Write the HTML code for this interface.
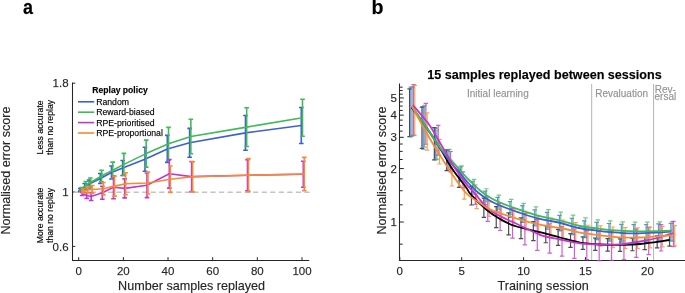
<!DOCTYPE html>
<html><head><meta charset="utf-8"><style>
html,body{margin:0;padding:0;background:#fff;}
body{width:685px;height:293px;overflow:hidden;}
svg{display:block;}
text{font-family:"Liberation Sans",sans-serif;}
.t{filter:grayscale(1);}
.t text{stroke-width:0.25px;stroke-opacity:0.6;}
</style></head><body>
<svg width="685" height="293" viewBox="0 0 685 293">
<rect width="685" height="293" fill="#fff"/>
<path d="M72.5,82.6 V260.5 H309.2" stroke="#262626" stroke-width="1.05" fill="none"/>
<line x1="72.5" y1="83.20" x2="75.3" y2="83.20" stroke="#262626" stroke-width="1"/>
<line x1="72.5" y1="192.00" x2="75.3" y2="192.00" stroke="#262626" stroke-width="1"/>
<line x1="72.5" y1="246.40" x2="75.3" y2="246.40" stroke="#262626" stroke-width="1"/>
<line x1="78.70" y1="260" x2="78.70" y2="257.2" stroke="#262626" stroke-width="1"/>
<line x1="123.36" y1="260" x2="123.36" y2="257.2" stroke="#262626" stroke-width="1"/>
<line x1="168.02" y1="260" x2="168.02" y2="257.2" stroke="#262626" stroke-width="1"/>
<line x1="212.68" y1="260" x2="212.68" y2="257.2" stroke="#262626" stroke-width="1"/>
<line x1="257.34" y1="260" x2="257.34" y2="257.2" stroke="#262626" stroke-width="1"/>
<line x1="302.00" y1="260" x2="302.00" y2="257.2" stroke="#262626" stroke-width="1"/>
<line x1="73.8" y1="192.2" x2="309.5" y2="192.2" stroke="#c4c4c4" stroke-width="1.4" stroke-dasharray="5.2,3.34"/>
<path d="M80.23,188.50 V191.50 M77.93,188.50 H82.53 M77.93,191.50 H82.53" stroke="#3d5fd6" stroke-width="1.6" fill="none"/>
<path d="M84.70,183.50 V189.50 M82.40,183.50 H87.00 M82.40,189.50 H87.00" stroke="#3d5fd6" stroke-width="1.6" fill="none"/>
<path d="M89.17,180.00 V188.00 M86.87,180.00 H91.47 M86.87,188.00 H91.47" stroke="#3d5fd6" stroke-width="1.6" fill="none"/>
<path d="M100.33,173.50 V183.50 M98.03,173.50 H102.63 M98.03,183.50 H102.63" stroke="#3d5fd6" stroke-width="1.6" fill="none"/>
<path d="M111.50,166.00 V179.00 M109.20,166.00 H113.80 M109.20,179.00 H113.80" stroke="#3d5fd6" stroke-width="1.6" fill="none"/>
<path d="M122.66,160.50 V175.50 M120.36,160.50 H124.96 M120.36,175.50 H124.96" stroke="#3d5fd6" stroke-width="1.6" fill="none"/>
<path d="M144.99,147.20 V171.20 M142.69,147.20 H147.29 M142.69,171.20 H147.29" stroke="#3d5fd6" stroke-width="1.6" fill="none"/>
<path d="M167.32,135.40 V162.40 M165.02,135.40 H169.62 M165.02,162.40 H169.62" stroke="#3d5fd6" stroke-width="1.6" fill="none"/>
<path d="M189.65,128.40 V157.20 M187.35,128.40 H191.95 M187.35,157.20 H191.95" stroke="#3d5fd6" stroke-width="1.6" fill="none"/>
<path d="M245.48,115.50 V150.30 M243.18,115.50 H247.78 M243.18,150.30 H247.78" stroke="#3d5fd6" stroke-width="1.6" fill="none"/>
<path d="M301.30,107.50 V143.50 M299.00,107.50 H303.60 M299.00,143.50 H303.60" stroke="#3d5fd6" stroke-width="1.6" fill="none"/>
<polyline points="78.00,191.60 80.23,190.00 84.70,186.50 89.17,184.00 100.33,178.50 111.50,172.50 122.66,168.00 144.99,159.20 167.32,148.90 189.65,142.80 245.48,132.90 301.30,125.50" stroke="#3d5fd6" stroke-width="1.6" fill="none" stroke-linejoin="round"/>
<path d="M81.43,187.50 V191.50 M79.13,187.50 H83.73 M79.13,191.50 H83.73" stroke="#3fba55" stroke-width="1.6" fill="none"/>
<path d="M85.90,181.50 V188.50 M83.60,181.50 H88.20 M83.60,188.50 H88.20" stroke="#3fba55" stroke-width="1.6" fill="none"/>
<path d="M90.37,178.00 V187.00 M88.07,178.00 H92.67 M88.07,187.00 H92.67" stroke="#3fba55" stroke-width="1.6" fill="none"/>
<path d="M101.53,170.30 V181.70 M99.23,170.30 H103.83 M99.23,181.70 H103.83" stroke="#3fba55" stroke-width="1.6" fill="none"/>
<path d="M112.70,162.10 V178.50 M110.40,162.10 H115.00 M110.40,178.50 H115.00" stroke="#3fba55" stroke-width="1.6" fill="none"/>
<path d="M123.86,153.40 V175.40 M121.56,153.40 H126.16 M121.56,175.40 H126.16" stroke="#3fba55" stroke-width="1.6" fill="none"/>
<path d="M146.19,140.10 V167.10 M143.89,140.10 H148.49 M143.89,167.10 H148.49" stroke="#3fba55" stroke-width="1.6" fill="none"/>
<path d="M168.52,127.40 V160.20 M166.22,127.40 H170.82 M166.22,160.20 H170.82" stroke="#3fba55" stroke-width="1.6" fill="none"/>
<path d="M190.85,119.30 V153.70 M188.55,119.30 H193.15 M188.55,153.70 H193.15" stroke="#3fba55" stroke-width="1.6" fill="none"/>
<path d="M246.68,107.70 V146.50 M244.38,107.70 H248.98 M244.38,146.50 H248.98" stroke="#3fba55" stroke-width="1.6" fill="none"/>
<path d="M302.50,99.20 V136.20 M300.20,99.20 H304.80 M300.20,136.20 H304.80" stroke="#3fba55" stroke-width="1.6" fill="none"/>
<polyline points="79.20,191.60 81.43,189.50 85.90,185.00 90.37,182.50 101.53,176.00 112.70,170.30 123.86,164.40 146.19,153.60 168.52,143.80 190.85,136.50 246.68,127.10 302.50,117.70" stroke="#3fba55" stroke-width="1.6" fill="none" stroke-linejoin="round"/>
<path d="M82.23,191.50 V195.50 M79.93,191.50 H84.53 M79.93,195.50 H84.53" stroke="#c436d0" stroke-width="1.6" fill="none"/>
<path d="M86.70,192.50 V198.50 M84.40,192.50 H89.00 M84.40,198.50 H89.00" stroke="#c436d0" stroke-width="1.6" fill="none"/>
<path d="M91.17,192.50 V200.50 M88.87,192.50 H93.47 M88.87,200.50 H93.47" stroke="#c436d0" stroke-width="1.6" fill="none"/>
<path d="M102.33,186.30 V199.30 M100.03,186.30 H104.63 M100.03,199.30 H104.63" stroke="#c436d0" stroke-width="1.6" fill="none"/>
<path d="M113.50,175.70 V198.70 M111.20,175.70 H115.80 M111.20,198.70 H115.80" stroke="#c436d0" stroke-width="1.6" fill="none"/>
<path d="M124.66,178.90 V197.90 M122.36,178.90 H126.96 M122.36,197.90 H126.96" stroke="#c436d0" stroke-width="1.6" fill="none"/>
<path d="M146.99,173.00 V197.60 M144.69,173.00 H149.29 M144.69,197.60 H149.29" stroke="#c436d0" stroke-width="1.6" fill="none"/>
<path d="M169.32,159.50 V188.10 M167.02,159.50 H171.62 M167.02,188.10 H171.62" stroke="#c436d0" stroke-width="1.6" fill="none"/>
<path d="M191.65,161.60 V191.60 M189.35,161.60 H193.95 M189.35,191.60 H193.95" stroke="#c436d0" stroke-width="1.6" fill="none"/>
<path d="M247.48,159.70 V190.70 M245.18,159.70 H249.78 M245.18,190.70 H249.78" stroke="#c436d0" stroke-width="1.6" fill="none"/>
<path d="M303.30,161.20 V187.20 M301.00,161.20 H305.60 M301.00,187.20 H305.60" stroke="#c436d0" stroke-width="1.6" fill="none"/>
<polyline points="80.00,191.60 82.23,193.50 86.70,195.50 91.17,196.50 102.33,192.80 113.50,187.20 124.66,188.40 146.99,185.30 169.32,173.80 191.65,176.60 247.48,175.20 303.30,174.20" stroke="#c436d0" stroke-width="1.6" fill="none" stroke-linejoin="round"/>
<path d="M83.23,189.00 V193.00 M80.93,189.00 H85.53 M80.93,193.00 H85.53" stroke="#f68b34" stroke-width="1.6" fill="none"/>
<path d="M87.70,187.00 V193.00 M85.40,187.00 H90.00 M85.40,193.00 H90.00" stroke="#f68b34" stroke-width="1.6" fill="none"/>
<path d="M92.17,185.50 V193.50 M89.87,185.50 H94.47 M89.87,193.50 H94.47" stroke="#f68b34" stroke-width="1.6" fill="none"/>
<path d="M103.33,182.50 V194.90 M101.03,182.50 H105.63 M101.03,194.90 H105.63" stroke="#f68b34" stroke-width="1.6" fill="none"/>
<path d="M114.50,176.10 V196.10 M112.20,176.10 H116.80 M112.20,196.10 H116.80" stroke="#f68b34" stroke-width="1.6" fill="none"/>
<path d="M125.66,172.70 V194.70 M123.36,172.70 H127.96 M123.36,194.70 H127.96" stroke="#f68b34" stroke-width="1.6" fill="none"/>
<path d="M147.99,172.00 V194.00 M145.69,172.00 H150.29 M145.69,194.00 H150.29" stroke="#f68b34" stroke-width="1.6" fill="none"/>
<path d="M170.32,166.00 V192.40 M168.02,166.00 H172.62 M168.02,192.40 H172.62" stroke="#f68b34" stroke-width="1.6" fill="none"/>
<path d="M192.65,161.80 V191.80 M190.35,161.80 H194.95 M190.35,191.80 H194.95" stroke="#f68b34" stroke-width="1.6" fill="none"/>
<path d="M248.48,158.60 V191.80 M246.18,158.60 H250.78 M246.18,191.80 H250.78" stroke="#f68b34" stroke-width="1.6" fill="none"/>
<path d="M304.30,157.40 V190.60 M302.00,157.40 H306.60 M302.00,190.60 H306.60" stroke="#f68b34" stroke-width="1.6" fill="none"/>
<polyline points="81.00,191.60 83.23,191.00 87.70,190.00 92.17,189.50 103.33,188.70 114.50,186.10 125.66,183.70 147.99,183.00 170.32,179.20 192.65,176.80 248.48,175.20 304.30,174.00" stroke="#f68b34" stroke-width="1.6" fill="none" stroke-linejoin="round"/>
<line x1="78" y1="101.80" x2="94.2" y2="101.80" stroke="#3d5fd6" stroke-width="1.6"/>
<line x1="78" y1="112.20" x2="94.2" y2="112.20" stroke="#3fba55" stroke-width="1.6"/>
<line x1="78" y1="122.60" x2="94.2" y2="122.60" stroke="#c436d0" stroke-width="1.6"/>
<line x1="78" y1="133.00" x2="94.2" y2="133.00" stroke="#f68b34" stroke-width="1.6"/>
<path d="M399.5,83.4 V260.5 H685" stroke="#262626" stroke-width="1.05" fill="none"/>
<line x1="399.6" y1="222.00" x2="403.8" y2="222.00" stroke="#262626" stroke-width="1"/>
<line x1="399.6" y1="168.57" x2="403.8" y2="168.57" stroke="#262626" stroke-width="1"/>
<line x1="399.6" y1="137.31" x2="403.8" y2="137.31" stroke="#262626" stroke-width="1"/>
<line x1="399.6" y1="115.13" x2="403.8" y2="115.13" stroke="#262626" stroke-width="1"/>
<line x1="399.6" y1="97.93" x2="403.8" y2="97.93" stroke="#262626" stroke-width="1"/>
<line x1="399.6" y1="244.18" x2="402.7" y2="244.18" stroke="#262626" stroke-width="1"/>
<line x1="399.6" y1="204.80" x2="402.7" y2="204.80" stroke="#262626" stroke-width="1"/>
<line x1="399.6" y1="190.74" x2="402.7" y2="190.74" stroke="#262626" stroke-width="1"/>
<line x1="399.6" y1="178.86" x2="402.7" y2="178.86" stroke="#262626" stroke-width="1"/>
<line x1="399.6" y1="159.49" x2="402.7" y2="159.49" stroke="#262626" stroke-width="1"/>
<line x1="399.6" y1="151.37" x2="402.7" y2="151.37" stroke="#262626" stroke-width="1"/>
<line x1="399.6" y1="144.02" x2="402.7" y2="144.02" stroke="#262626" stroke-width="1"/>
<line x1="399.6" y1="131.14" x2="402.7" y2="131.14" stroke="#262626" stroke-width="1"/>
<line x1="399.6" y1="125.43" x2="402.7" y2="125.43" stroke="#262626" stroke-width="1"/>
<line x1="399.6" y1="120.11" x2="402.7" y2="120.11" stroke="#262626" stroke-width="1"/>
<line x1="399.6" y1="110.46" x2="402.7" y2="110.46" stroke="#262626" stroke-width="1"/>
<line x1="399.6" y1="106.05" x2="402.7" y2="106.05" stroke="#262626" stroke-width="1"/>
<line x1="399.6" y1="101.89" x2="402.7" y2="101.89" stroke="#262626" stroke-width="1"/>
<line x1="399.6" y1="94.17" x2="402.7" y2="94.17" stroke="#262626" stroke-width="1"/>
<line x1="399.6" y1="90.59" x2="402.7" y2="90.59" stroke="#262626" stroke-width="1"/>
<line x1="399.6" y1="87.16" x2="402.7" y2="87.16" stroke="#262626" stroke-width="1"/>
<line x1="399.80" y1="260" x2="399.80" y2="257.2" stroke="#262626" stroke-width="1"/>
<line x1="461.70" y1="260" x2="461.70" y2="257.2" stroke="#262626" stroke-width="1"/>
<line x1="523.60" y1="260" x2="523.60" y2="257.2" stroke="#262626" stroke-width="1"/>
<line x1="585.50" y1="260" x2="585.50" y2="257.2" stroke="#262626" stroke-width="1"/>
<line x1="647.40" y1="260" x2="647.40" y2="257.2" stroke="#262626" stroke-width="1"/>
<line x1="591.69" y1="84" x2="591.69" y2="260" stroke="#b4b4b4" stroke-width="1"/>
<line x1="653.59" y1="84" x2="653.59" y2="260" stroke="#b4b4b4" stroke-width="1"/>
<path d="M409.58,88.84 V136.65 M407.38,88.84 H411.78 M407.38,136.65 H411.78" stroke="#000000" stroke-opacity="0.7" stroke-width="1.2" fill="none"/>
<path d="M421.96,107.10 V148.36 M419.76,107.10 H424.16 M419.76,148.36 H424.16" stroke="#000000" stroke-opacity="0.7" stroke-width="1.2" fill="none"/>
<path d="M434.34,127.68 V159.86 M432.14,127.68 H436.54 M432.14,159.86 H436.54" stroke="#000000" stroke-opacity="0.7" stroke-width="1.2" fill="none"/>
<path d="M446.72,149.88 V170.57 M444.52,149.88 H448.92 M444.52,170.57 H448.92" stroke="#000000" stroke-opacity="0.7" stroke-width="1.2" fill="none"/>
<path d="M459.10,169.78 V187.28 M456.90,169.78 H461.30 M456.90,187.28 H461.30" stroke="#000000" stroke-opacity="0.7" stroke-width="1.2" fill="none"/>
<path d="M471.48,186.43 V205.02 M469.28,186.43 H473.68 M469.28,205.02 H473.68" stroke="#000000" stroke-opacity="0.7" stroke-width="1.2" fill="none"/>
<path d="M483.86,198.15 V217.33 M481.66,198.15 H486.06 M481.66,217.33 H486.06" stroke="#000000" stroke-opacity="0.7" stroke-width="1.2" fill="none"/>
<path d="M496.24,206.66 V227.58 M494.04,206.66 H498.44 M494.04,227.58 H498.44" stroke="#000000" stroke-opacity="0.7" stroke-width="1.2" fill="none"/>
<path d="M508.62,212.80 V234.82 M506.42,212.80 H510.82 M506.42,234.82 H510.82" stroke="#000000" stroke-opacity="0.7" stroke-width="1.2" fill="none"/>
<path d="M521.00,217.78 V238.60 M518.80,217.78 H523.20 M518.80,238.60 H523.20" stroke="#000000" stroke-opacity="0.7" stroke-width="1.2" fill="none"/>
<path d="M533.38,221.62 V240.67 M531.18,221.62 H535.58 M531.18,240.67 H535.58" stroke="#000000" stroke-opacity="0.7" stroke-width="1.2" fill="none"/>
<path d="M545.76,225.64 V242.76 M543.56,225.64 H547.96 M543.56,242.76 H547.96" stroke="#000000" stroke-opacity="0.7" stroke-width="1.2" fill="none"/>
<path d="M558.14,229.43 V245.41 M555.94,229.43 H560.34 M555.94,245.41 H560.34" stroke="#000000" stroke-opacity="0.7" stroke-width="1.2" fill="none"/>
<path d="M570.52,233.64 V247.34 M568.32,233.64 H572.72 M568.32,247.34 H572.72" stroke="#000000" stroke-opacity="0.7" stroke-width="1.2" fill="none"/>
<path d="M582.90,236.85 V249.41 M580.70,236.85 H585.10 M580.70,249.41 H585.10" stroke="#000000" stroke-opacity="0.7" stroke-width="1.2" fill="none"/>
<path d="M595.28,238.13 V250.47 M593.08,238.13 H597.48 M593.08,250.47 H597.48" stroke="#000000" stroke-opacity="0.7" stroke-width="1.2" fill="none"/>
<path d="M607.66,238.65 V251.08 M605.46,238.65 H609.86 M605.46,251.08 H609.86" stroke="#000000" stroke-opacity="0.7" stroke-width="1.2" fill="none"/>
<path d="M620.04,238.82 V251.28 M617.84,238.82 H622.24 M617.84,251.28 H622.24" stroke="#000000" stroke-opacity="0.7" stroke-width="1.2" fill="none"/>
<path d="M632.42,238.36 V250.74 M630.22,238.36 H634.62 M630.22,250.74 H634.62" stroke="#000000" stroke-opacity="0.7" stroke-width="1.2" fill="none"/>
<path d="M644.80,237.48 V249.71 M642.60,237.48 H647.00 M642.60,249.71 H647.00" stroke="#000000" stroke-opacity="0.7" stroke-width="1.2" fill="none"/>
<path d="M657.18,235.93 V247.89 M654.98,235.93 H659.38 M654.98,247.89 H659.38" stroke="#000000" stroke-opacity="0.7" stroke-width="1.2" fill="none"/>
<path d="M669.56,234.37 V246.08 M667.36,234.37 H671.76 M667.36,246.08 H671.76" stroke="#000000" stroke-opacity="0.7" stroke-width="1.2" fill="none"/>
<path d="M410.88,87.19 V136.60 M408.68,87.19 H413.08 M408.68,136.60 H413.08" stroke="#3d5fd6" stroke-opacity="0.75" stroke-width="1.2" fill="none"/>
<path d="M423.26,106.58 V149.25 M421.06,106.58 H425.46 M421.06,149.25 H425.46" stroke="#3d5fd6" stroke-opacity="0.75" stroke-width="1.2" fill="none"/>
<path d="M435.64,128.07 V159.76 M433.44,128.07 H437.84 M433.44,159.76 H437.84" stroke="#3d5fd6" stroke-opacity="0.75" stroke-width="1.2" fill="none"/>
<path d="M448.02,149.90 V169.03 M445.82,149.90 H450.22 M445.82,169.03 H450.22" stroke="#3d5fd6" stroke-opacity="0.75" stroke-width="1.2" fill="none"/>
<path d="M460.40,166.96 V180.99 M458.20,166.96 H462.60 M458.20,180.99 H462.60" stroke="#3d5fd6" stroke-opacity="0.75" stroke-width="1.2" fill="none"/>
<path d="M472.78,181.23 V194.05 M470.58,181.23 H474.98 M470.58,194.05 H474.98" stroke="#3d5fd6" stroke-opacity="0.75" stroke-width="1.2" fill="none"/>
<path d="M485.16,191.07 V204.57 M482.96,191.07 H487.36 M482.96,204.57 H487.36" stroke="#3d5fd6" stroke-opacity="0.75" stroke-width="1.2" fill="none"/>
<path d="M497.54,197.39 V212.16 M495.34,197.39 H499.74 M495.34,212.16 H499.74" stroke="#3d5fd6" stroke-opacity="0.75" stroke-width="1.2" fill="none"/>
<path d="M509.92,201.69 V217.41 M507.72,201.69 H512.12 M507.72,217.41 H512.12" stroke="#3d5fd6" stroke-opacity="0.75" stroke-width="1.2" fill="none"/>
<path d="M522.30,205.66 V222.30 M520.10,205.66 H524.50 M520.10,222.30 H524.50" stroke="#3d5fd6" stroke-opacity="0.75" stroke-width="1.2" fill="none"/>
<path d="M534.68,209.83 V225.87 M532.48,209.83 H536.88 M532.48,225.87 H536.88" stroke="#3d5fd6" stroke-opacity="0.75" stroke-width="1.2" fill="none"/>
<path d="M547.06,212.41 V229.06 M544.86,212.41 H549.26 M544.86,229.06 H549.26" stroke="#3d5fd6" stroke-opacity="0.75" stroke-width="1.2" fill="none"/>
<path d="M559.44,215.29 V230.90 M557.24,215.29 H561.64 M557.24,230.90 H561.64" stroke="#3d5fd6" stroke-opacity="0.75" stroke-width="1.2" fill="none"/>
<path d="M571.82,218.38 V234.70 M569.62,218.38 H574.02 M569.62,234.70 H574.02" stroke="#3d5fd6" stroke-opacity="0.75" stroke-width="1.2" fill="none"/>
<path d="M584.20,220.78 V237.68 M582.00,220.78 H586.40 M582.00,237.68 H586.40" stroke="#3d5fd6" stroke-opacity="0.75" stroke-width="1.2" fill="none"/>
<path d="M596.58,222.34 V239.63 M594.38,222.34 H598.78 M594.38,239.63 H598.78" stroke="#3d5fd6" stroke-opacity="0.75" stroke-width="1.2" fill="none"/>
<path d="M608.96,223.49 V241.06 M606.76,223.49 H611.16 M606.76,241.06 H611.16" stroke="#3d5fd6" stroke-opacity="0.75" stroke-width="1.2" fill="none"/>
<path d="M621.34,224.39 V242.20 M619.14,224.39 H623.54 M619.14,242.20 H623.54" stroke="#3d5fd6" stroke-opacity="0.75" stroke-width="1.2" fill="none"/>
<path d="M633.72,224.72 V242.62 M631.52,224.72 H635.92 M631.52,242.62 H635.92" stroke="#3d5fd6" stroke-opacity="0.75" stroke-width="1.2" fill="none"/>
<path d="M646.10,224.52 V242.37 M643.90,224.52 H648.30 M643.90,242.37 H648.30" stroke="#3d5fd6" stroke-opacity="0.75" stroke-width="1.2" fill="none"/>
<path d="M658.48,223.97 V241.68 M656.28,223.97 H660.68 M656.28,241.68 H660.68" stroke="#3d5fd6" stroke-opacity="0.75" stroke-width="1.2" fill="none"/>
<path d="M670.86,223.42 V240.98 M668.66,223.42 H673.06 M668.66,240.98 H673.06" stroke="#3d5fd6" stroke-opacity="0.75" stroke-width="1.2" fill="none"/>
<path d="M412.18,86.96 V136.16 M409.98,86.96 H414.38 M409.98,136.16 H414.38" stroke="#3fba55" stroke-opacity="0.75" stroke-width="1.2" fill="none"/>
<path d="M424.56,105.40 V147.21 M422.36,105.40 H426.76 M422.36,147.21 H426.76" stroke="#3fba55" stroke-opacity="0.75" stroke-width="1.2" fill="none"/>
<path d="M436.94,129.98 V159.17 M434.74,129.98 H439.14 M434.74,159.17 H439.14" stroke="#3fba55" stroke-opacity="0.75" stroke-width="1.2" fill="none"/>
<path d="M449.32,149.37 V167.59 M447.12,149.37 H451.52 M447.12,167.59 H451.52" stroke="#3fba55" stroke-opacity="0.75" stroke-width="1.2" fill="none"/>
<path d="M461.70,165.95 V178.90 M459.50,165.95 H463.90 M459.50,178.90 H463.90" stroke="#3fba55" stroke-opacity="0.75" stroke-width="1.2" fill="none"/>
<path d="M474.08,179.36 V190.81 M471.88,179.36 H476.28 M471.88,190.81 H476.28" stroke="#3fba55" stroke-opacity="0.75" stroke-width="1.2" fill="none"/>
<path d="M486.46,188.76 V201.83 M484.26,188.76 H488.66 M484.26,201.83 H488.66" stroke="#3fba55" stroke-opacity="0.75" stroke-width="1.2" fill="none"/>
<path d="M498.84,195.10 V209.40 M496.64,195.10 H501.04 M496.64,209.40 H501.04" stroke="#3fba55" stroke-opacity="0.75" stroke-width="1.2" fill="none"/>
<path d="M511.22,199.42 V214.63 M509.02,199.42 H513.42 M509.02,214.63 H513.42" stroke="#3fba55" stroke-opacity="0.75" stroke-width="1.2" fill="none"/>
<path d="M523.60,203.40 V219.51 M521.40,203.40 H525.80 M521.40,219.51 H525.80" stroke="#3fba55" stroke-opacity="0.75" stroke-width="1.2" fill="none"/>
<path d="M535.98,206.92 V223.87 M533.78,206.92 H538.18 M533.78,223.87 H538.18" stroke="#3fba55" stroke-opacity="0.75" stroke-width="1.2" fill="none"/>
<path d="M548.36,209.68 V227.32 M546.16,209.68 H550.56 M546.16,227.32 H550.56" stroke="#3fba55" stroke-opacity="0.75" stroke-width="1.2" fill="none"/>
<path d="M560.74,212.11 V230.38 M558.54,212.11 H562.94 M558.54,230.38 H562.94" stroke="#3fba55" stroke-opacity="0.75" stroke-width="1.2" fill="none"/>
<path d="M573.12,215.14 V234.25 M570.92,215.14 H575.32 M570.92,234.25 H575.32" stroke="#3fba55" stroke-opacity="0.75" stroke-width="1.2" fill="none"/>
<path d="M585.50,217.87 V236.83 M583.30,217.87 H587.70 M583.30,236.83 H587.70" stroke="#3fba55" stroke-opacity="0.75" stroke-width="1.2" fill="none"/>
<path d="M597.88,219.79 V238.33 M595.68,219.79 H600.08 M595.68,238.33 H600.08" stroke="#3fba55" stroke-opacity="0.75" stroke-width="1.2" fill="none"/>
<path d="M610.26,220.92 V239.78 M608.06,220.92 H612.46 M608.06,239.78 H612.46" stroke="#3fba55" stroke-opacity="0.75" stroke-width="1.2" fill="none"/>
<path d="M622.64,221.82 V240.92 M620.44,221.82 H624.84 M620.44,240.92 H624.84" stroke="#3fba55" stroke-opacity="0.75" stroke-width="1.2" fill="none"/>
<path d="M635.02,222.15 V241.34 M632.82,222.15 H637.22 M632.82,241.34 H637.22" stroke="#3fba55" stroke-opacity="0.75" stroke-width="1.2" fill="none"/>
<path d="M647.40,222.16 V241.36 M645.20,222.16 H649.60 M645.20,241.36 H649.60" stroke="#3fba55" stroke-opacity="0.75" stroke-width="1.2" fill="none"/>
<path d="M659.78,221.95 V241.09 M657.58,221.95 H661.98 M657.58,241.09 H661.98" stroke="#3fba55" stroke-opacity="0.75" stroke-width="1.2" fill="none"/>
<path d="M672.16,221.75 V240.83 M669.96,221.75 H674.36 M669.96,240.83 H674.36" stroke="#3fba55" stroke-opacity="0.75" stroke-width="1.2" fill="none"/>
<path d="M413.48,84.67 V135.31 M411.28,84.67 H415.68 M411.28,135.31 H415.68" stroke="#c436d0" stroke-opacity="0.8" stroke-width="1.2" fill="none"/>
<path d="M425.86,103.33 V144.24 M423.66,103.33 H428.06 M423.66,144.24 H428.06" stroke="#c436d0" stroke-opacity="0.8" stroke-width="1.2" fill="none"/>
<path d="M438.24,125.37 V155.07 M436.04,125.37 H440.44 M436.04,155.07 H440.44" stroke="#c436d0" stroke-opacity="0.8" stroke-width="1.2" fill="none"/>
<path d="M450.62,151.50 V171.90 M448.42,151.50 H452.82 M448.42,171.90 H452.82" stroke="#c436d0" stroke-opacity="0.8" stroke-width="1.2" fill="none"/>
<path d="M463.00,171.78 V187.80 M460.80,171.78 H465.20 M460.80,187.80 H465.20" stroke="#c436d0" stroke-opacity="0.8" stroke-width="1.2" fill="none"/>
<path d="M475.38,185.02 V204.46 M473.18,185.02 H477.58 M473.18,204.46 H477.58" stroke="#c436d0" stroke-opacity="0.8" stroke-width="1.2" fill="none"/>
<path d="M487.76,196.75 V221.42 M485.56,196.75 H489.96 M485.56,221.42 H489.96" stroke="#c436d0" stroke-opacity="0.8" stroke-width="1.2" fill="none"/>
<path d="M500.14,203.23 V230.48 M497.94,203.23 H502.34 M497.94,230.48 H502.34" stroke="#c436d0" stroke-opacity="0.8" stroke-width="1.2" fill="none"/>
<path d="M512.52,208.54 V238.17 M510.32,208.54 H514.72 M510.32,238.17 H514.72" stroke="#c436d0" stroke-opacity="0.8" stroke-width="1.2" fill="none"/>
<path d="M524.90,213.67 V244.79 M522.70,213.67 H527.10 M522.70,244.79 H527.10" stroke="#c436d0" stroke-opacity="0.8" stroke-width="1.2" fill="none"/>
<path d="M537.28,219.63 V250.47 M535.08,219.63 H539.48 M535.08,250.47 H539.48" stroke="#c436d0" stroke-opacity="0.8" stroke-width="1.2" fill="none"/>
<path d="M549.66,223.76 V253.17 M547.46,223.76 H551.86 M547.46,253.17 H551.86" stroke="#c436d0" stroke-opacity="0.8" stroke-width="1.2" fill="none"/>
<path d="M562.04,226.54 V256.07 M559.84,226.54 H564.24 M559.84,256.07 H564.24" stroke="#c436d0" stroke-opacity="0.8" stroke-width="1.2" fill="none"/>
<path d="M574.42,228.99 V258.43 M572.22,228.99 H576.62 M572.22,258.43 H576.62" stroke="#c436d0" stroke-opacity="0.8" stroke-width="1.2" fill="none"/>
<path d="M586.80,230.67 V259.65 M584.60,230.67 H589.00 M584.60,259.65 H589.00" stroke="#c436d0" stroke-opacity="0.8" stroke-width="1.2" fill="none"/>
<path d="M599.18,231.30 V260.56 M596.98,231.30 H601.38 M596.98,260.56 H601.38" stroke="#c436d0" stroke-opacity="0.8" stroke-width="1.2" fill="none"/>
<path d="M611.56,231.19 V260.41 M609.36,231.19 H613.76 M609.36,260.41 H613.76" stroke="#c436d0" stroke-opacity="0.8" stroke-width="1.2" fill="none"/>
<path d="M623.94,230.62 V259.58 M621.74,230.62 H626.14 M621.74,259.58 H626.14" stroke="#c436d0" stroke-opacity="0.8" stroke-width="1.2" fill="none"/>
<path d="M636.32,229.16 V257.45 M634.12,229.16 H638.52 M634.12,257.45 H638.52" stroke="#c436d0" stroke-opacity="0.8" stroke-width="1.2" fill="none"/>
<path d="M648.70,227.24 V254.71 M646.50,227.24 H650.90 M646.50,254.71 H650.90" stroke="#c436d0" stroke-opacity="0.8" stroke-width="1.2" fill="none"/>
<path d="M661.08,224.63 V251.00 M658.88,224.63 H663.28 M658.88,251.00 H663.28" stroke="#c436d0" stroke-opacity="0.8" stroke-width="1.2" fill="none"/>
<path d="M673.46,221.47 V246.59 M671.26,221.47 H675.66 M671.26,246.59 H675.66" stroke="#c436d0" stroke-opacity="0.8" stroke-width="1.2" fill="none"/>
<path d="M414.78,85.28 V134.99 M412.58,85.28 H416.98 M412.58,134.99 H416.98" stroke="#f68b34" stroke-opacity="0.8" stroke-width="1.2" fill="none"/>
<path d="M427.16,112.80 V150.06 M424.96,112.80 H429.36 M424.96,150.06 H429.36" stroke="#f68b34" stroke-opacity="0.8" stroke-width="1.2" fill="none"/>
<path d="M439.54,139.35 V164.01 M437.34,139.35 H441.74 M437.34,164.01 H441.74" stroke="#f68b34" stroke-opacity="0.8" stroke-width="1.2" fill="none"/>
<path d="M451.92,163.54 V186.02 M449.72,163.54 H454.12 M449.72,186.02 H454.12" stroke="#f68b34" stroke-opacity="0.8" stroke-width="1.2" fill="none"/>
<path d="M464.30,182.64 V199.08 M462.10,182.64 H466.50 M462.10,199.08 H466.50" stroke="#f68b34" stroke-opacity="0.8" stroke-width="1.2" fill="none"/>
<path d="M476.68,193.36 V208.59 M474.48,193.36 H478.88 M474.48,208.59 H478.88" stroke="#f68b34" stroke-opacity="0.8" stroke-width="1.2" fill="none"/>
<path d="M489.06,201.95 V216.28 M486.86,201.95 H491.26 M486.86,216.28 H491.26" stroke="#f68b34" stroke-opacity="0.8" stroke-width="1.2" fill="none"/>
<path d="M501.44,206.07 V221.26 M499.24,206.07 H503.64 M499.24,221.26 H503.64" stroke="#f68b34" stroke-opacity="0.8" stroke-width="1.2" fill="none"/>
<path d="M513.82,209.89 V225.94 M511.62,209.89 H516.02 M511.62,225.94 H516.02" stroke="#f68b34" stroke-opacity="0.8" stroke-width="1.2" fill="none"/>
<path d="M526.20,213.22 V230.06 M524.00,213.22 H528.40 M524.00,230.06 H528.40" stroke="#f68b34" stroke-opacity="0.8" stroke-width="1.2" fill="none"/>
<path d="M538.58,216.06 V233.62 M536.38,216.06 H540.78 M536.38,233.62 H540.78" stroke="#f68b34" stroke-opacity="0.8" stroke-width="1.2" fill="none"/>
<path d="M550.96,218.07 V236.15 M548.76,218.07 H553.16 M548.76,236.15 H553.16" stroke="#f68b34" stroke-opacity="0.8" stroke-width="1.2" fill="none"/>
<path d="M563.34,219.98 V238.57 M561.14,219.98 H565.54 M561.14,238.57 H565.54" stroke="#f68b34" stroke-opacity="0.8" stroke-width="1.2" fill="none"/>
<path d="M575.72,222.59 V241.91 M573.52,222.59 H577.92 M573.52,241.91 H577.92" stroke="#f68b34" stroke-opacity="0.8" stroke-width="1.2" fill="none"/>
<path d="M588.10,225.26 V243.30 M585.90,225.26 H590.30 M585.90,243.30 H590.30" stroke="#f68b34" stroke-opacity="0.8" stroke-width="1.2" fill="none"/>
<path d="M600.48,225.87 V246.16 M598.28,225.87 H602.68 M598.28,246.16 H602.68" stroke="#f68b34" stroke-opacity="0.8" stroke-width="1.2" fill="none"/>
<path d="M612.86,227.02 V247.65 M610.66,227.02 H615.06 M610.66,247.65 H615.06" stroke="#f68b34" stroke-opacity="0.8" stroke-width="1.2" fill="none"/>
<path d="M625.24,227.71 V248.55 M623.04,227.71 H627.44 M623.04,248.55 H627.44" stroke="#f68b34" stroke-opacity="0.8" stroke-width="1.2" fill="none"/>
<path d="M637.62,227.76 V248.62 M635.42,227.76 H639.82 M635.42,248.62 H639.82" stroke="#f68b34" stroke-opacity="0.8" stroke-width="1.2" fill="none"/>
<path d="M650.00,227.14 V247.81 M647.80,227.14 H652.20 M647.80,247.81 H652.20" stroke="#f68b34" stroke-opacity="0.8" stroke-width="1.2" fill="none"/>
<path d="M662.38,226.35 V246.78 M660.18,226.35 H664.58 M660.18,246.78 H664.58" stroke="#f68b34" stroke-opacity="0.8" stroke-width="1.2" fill="none"/>
<path d="M674.76,225.57 V245.76 M672.56,225.57 H676.96 M672.56,245.76 H676.96" stroke="#f68b34" stroke-opacity="0.8" stroke-width="1.2" fill="none"/>
<path d="M411.60,107.40 C414.20,110.93 422.47,121.83 427.20,128.60 C431.93,135.37 435.87,141.33 440.00,148.00 C444.13,154.67 447.67,162.07 452.00,168.60 C456.33,175.13 462.83,182.85 466.00,187.20 C469.17,191.55 467.58,190.95 471.00,194.70 C474.42,198.45 481.67,205.65 486.50,209.70 C491.33,213.75 495.25,216.28 500.00,219.00 C504.75,221.72 508.33,223.80 515.00,226.00 C521.67,228.20 532.50,230.28 540.00,232.20 C547.50,234.12 553.33,235.77 560.00,237.50 C566.67,239.23 573.33,241.43 580.00,242.60 C586.67,243.77 593.33,244.13 600.00,244.50 C606.67,244.87 613.33,244.88 620.00,244.80 C626.67,244.72 631.73,244.80 640.00,244.00 C648.27,243.20 664.67,240.67 669.60,240.00" stroke="#000000" stroke-width="1.8" fill="none" stroke-linejoin="round"/>
<path d="M411.90,107.00 C414.45,110.67 422.57,122.23 427.20,129.00 C431.83,135.77 435.78,142.02 439.70,147.60 C443.62,153.18 447.20,158.10 450.70,162.50 C454.20,166.90 457.70,170.50 460.70,174.00 C463.70,177.50 465.70,180.33 468.70,183.50 C471.70,186.67 475.37,190.25 478.70,193.00 C482.03,195.75 485.37,198.00 488.70,200.00 C492.03,202.00 493.70,202.93 498.70,205.00 C503.70,207.07 512.03,210.12 518.70,212.40 C525.37,214.68 532.03,217.02 538.70,218.70 C545.37,220.38 552.03,220.95 558.70,222.50 C565.37,224.05 572.03,226.62 578.70,228.00 C585.37,229.38 592.03,230.02 598.70,230.80 C605.37,231.58 612.03,232.28 618.70,232.70 C625.37,233.12 630.00,233.47 638.70,233.30 C647.40,233.13 665.53,231.97 670.90,231.70" stroke="#3d5fd6" stroke-width="1.8" fill="none" stroke-linejoin="round"/>
<path d="M412.20,106.70 C414.75,110.37 422.87,121.93 427.50,128.70 C432.13,135.47 435.92,141.92 440.00,147.30 C444.08,152.68 448.33,156.80 452.00,161.00 C455.67,165.20 459.00,169.17 462.00,172.50 C465.00,175.83 467.00,178.00 470.00,181.00 C473.00,184.00 476.67,187.75 480.00,190.50 C483.33,193.25 486.67,195.50 490.00,197.50 C493.33,199.50 495.00,200.43 500.00,202.50 C505.00,204.57 513.33,207.62 520.00,209.90 C526.67,212.18 533.33,214.43 540.00,216.20 C546.67,217.97 553.33,218.87 560.00,220.50 C566.67,222.13 573.33,224.62 580.00,226.00 C586.67,227.38 593.33,228.02 600.00,228.80 C606.67,229.58 613.33,230.28 620.00,230.70 C626.67,231.12 631.30,231.30 640.00,231.30 C648.70,231.30 666.83,230.80 672.20,230.70" stroke="#3fba55" stroke-width="1.8" fill="none" stroke-linejoin="round"/>
<path d="M413.00,105.00 C415.08,107.50 422.50,116.25 425.50,120.00 C428.50,123.75 428.10,122.88 431.00,127.50 C433.90,132.12 439.15,141.28 442.90,147.70 C446.65,154.12 449.65,160.02 453.50,166.00 C457.35,171.98 462.42,178.98 466.00,183.60 C469.58,188.22 471.17,189.38 475.00,193.70 C478.83,198.02 483.50,205.12 489.00,209.50 C494.50,213.88 503.67,217.75 508.00,220.00 C512.33,222.25 509.67,220.53 515.00,223.00 C520.33,225.47 532.50,232.05 540.00,234.80 C547.50,237.55 553.33,238.07 560.00,239.50 C566.67,240.93 573.33,242.55 580.00,243.40 C586.67,244.25 593.33,244.45 600.00,244.60 C606.67,244.75 613.33,244.82 620.00,244.30 C626.67,243.78 634.17,242.47 640.00,241.50 C645.83,240.53 649.42,239.92 655.00,238.50 C660.58,237.08 670.42,233.92 673.50,233.00" stroke="#c436d0" stroke-width="1.8" fill="none" stroke-linejoin="round"/>
<path d="M411.80,106.10 C413.95,110.00 420.80,122.57 424.70,129.50 C428.60,136.43 432.65,143.42 435.20,147.70 C437.75,151.98 437.17,150.75 440.00,155.20 C442.83,159.65 447.70,167.93 452.20,174.40 C456.70,180.87 462.70,189.48 467.00,194.00 C471.30,198.52 474.17,198.93 478.00,201.50 C481.83,204.07 483.00,206.38 490.00,209.40 C497.00,212.42 511.67,217.05 520.00,219.60 C528.33,222.15 532.50,223.13 540.00,224.70 C547.50,226.27 558.33,227.67 565.00,229.00 C571.67,230.33 574.17,231.65 580.00,232.70 C585.83,233.75 593.33,234.52 600.00,235.30 C606.67,236.08 613.33,237.03 620.00,237.40 C626.67,237.77 630.87,237.90 640.00,237.50 C649.13,237.10 669.00,235.42 674.80,235.00" stroke="#f68b34" stroke-width="1.8" fill="none" stroke-linejoin="round"/>
<g class="t">
<text stroke="#000" transform="translate(22.95,14.2) scale(0.92,1.02)" style="font-weight:bold;font-size:19.5px" fill="#000">a</text>
<text stroke="#000" transform="translate(371.5,14.25)" style="font-weight:bold;font-size:19.6px" fill="#000">b</text>
<text stroke="#262626" x="68.6" y="87.30" text-anchor="end" style="font-size:11.5px" fill="#262626">1.8</text>
<text stroke="#262626" x="68.6" y="196.10" text-anchor="end" style="font-size:11.5px" fill="#262626">1</text>
<text stroke="#262626" x="68.6" y="250.50" text-anchor="end" style="font-size:11.5px" fill="#262626">0.6</text>
<text stroke="#262626" x="78.70" y="274.9" text-anchor="middle" style="font-size:11.5px" fill="#262626">0</text>
<text stroke="#262626" x="123.36" y="274.9" text-anchor="middle" style="font-size:11.5px" fill="#262626">20</text>
<text stroke="#262626" x="168.02" y="274.9" text-anchor="middle" style="font-size:11.5px" fill="#262626">40</text>
<text stroke="#262626" x="212.68" y="274.9" text-anchor="middle" style="font-size:11.5px" fill="#262626">60</text>
<text stroke="#262626" x="257.34" y="274.9" text-anchor="middle" style="font-size:11.5px" fill="#262626">80</text>
<text stroke="#262626" x="302.00" y="274.9" text-anchor="middle" style="font-size:11.5px" fill="#262626">100</text>
<text stroke="#262626" x="191.6" y="289.8" text-anchor="middle" style="font-size:12.6px" fill="#262626">Number samples replayed</text>
<text stroke="#262626" transform="translate(10.2,170.5) rotate(-90)" text-anchor="middle" style="font-size:12.6px" fill="#262626">Normalised error score</text>
<text stroke="#000" transform="translate(43.3,127.4) rotate(-90)" text-anchor="middle" style="font-size:8.7px" fill="#000">Less accurate</text>
<text stroke="#000" transform="translate(53.4,127.4) rotate(-90)" text-anchor="middle" style="font-size:8.7px" fill="#000">than no replay</text>
<text stroke="#000" transform="translate(43.3,215.5) rotate(-90)" text-anchor="middle" style="font-size:8.7px" fill="#000">More accurate</text>
<text stroke="#000" transform="translate(53.4,215.5) rotate(-90)" text-anchor="middle" style="font-size:8.7px" fill="#000">than no replay</text>
<text stroke="#000" x="92.3" y="92.7" style="font-weight:bold;font-size:8.6px" fill="#000">Replay policy</text>
<text stroke="#000" x="96.2" y="105.00" style="font-size:8.7px" fill="#000">Random</text>
<text stroke="#000" x="96.2" y="115.40" style="font-size:8.7px" fill="#000">Reward-biased</text>
<text stroke="#000" x="96.2" y="125.80" style="font-size:8.7px" fill="#000">RPE-prioritised</text>
<text stroke="#000" x="96.2" y="136.20" style="font-size:8.7px" fill="#000">RPE-proportional</text>
<text stroke="#262626" x="396.8" y="226.10" text-anchor="end" style="font-size:11.5px" fill="#262626">1</text>
<text stroke="#262626" x="396.8" y="172.67" text-anchor="end" style="font-size:11.5px" fill="#262626">2</text>
<text stroke="#262626" x="396.8" y="141.41" text-anchor="end" style="font-size:11.5px" fill="#262626">3</text>
<text stroke="#262626" x="396.8" y="119.23" text-anchor="end" style="font-size:11.5px" fill="#262626">4</text>
<text stroke="#262626" x="396.8" y="102.03" text-anchor="end" style="font-size:11.5px" fill="#262626">5</text>
<text stroke="#262626" x="399.80" y="274.9" text-anchor="middle" style="font-size:11.5px" fill="#262626">0</text>
<text stroke="#262626" x="461.70" y="274.9" text-anchor="middle" style="font-size:11.5px" fill="#262626">5</text>
<text stroke="#262626" x="523.60" y="274.9" text-anchor="middle" style="font-size:11.5px" fill="#262626">10</text>
<text stroke="#262626" x="585.50" y="274.9" text-anchor="middle" style="font-size:11.5px" fill="#262626">15</text>
<text stroke="#262626" x="647.40" y="274.9" text-anchor="middle" style="font-size:11.5px" fill="#262626">20</text>
<text stroke="#262626" x="543.2" y="289.8" text-anchor="middle" style="font-size:12.6px" fill="#262626">Training session</text>
<text stroke="#262626" transform="translate(385.5,170.5) rotate(-90)" text-anchor="middle" style="font-size:12.6px" fill="#262626">Normalised error score</text>
<text stroke="#000" x="544.5" y="79" text-anchor="middle" style="font-weight:bold;font-size:12.6px" fill="#000">15 samples replayed between sessions</text>
<text stroke="#939393" x="497.9" y="96.8" text-anchor="middle" style="font-size:10px" fill="#939393">Initial learning</text>
<text stroke="#939393" x="595.2" y="96.6" style="font-size:10px" fill="#939393">Revaluation</text>
<text stroke="#939393" x="654.7" y="92.8" style="font-size:10px" fill="#939393">Rev-</text>
<text stroke="#939393" x="654.5" y="100" style="font-size:10px" fill="#939393">ersal</text>
</g>
</svg>
</body></html>
